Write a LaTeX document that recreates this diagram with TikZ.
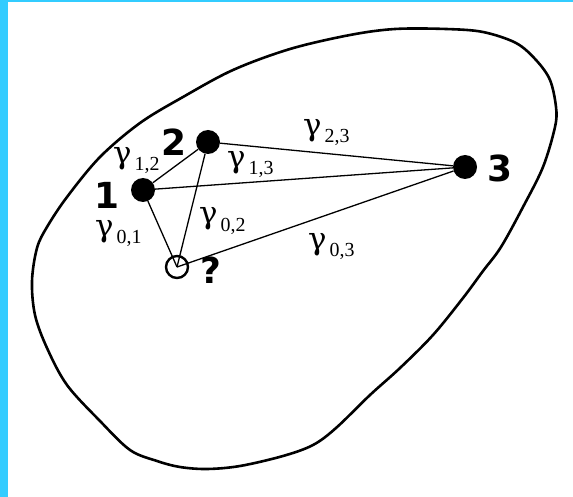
\documentclass[tikz,border=0pt]{standalone}
\usepackage{fontspec}
\setmainfont{Liberation Serif}
\newfontfamily\digfont{DejaVu Sans}
\newfontfamily\grkfont{DejaVu Serif}
\definecolor{barblue}{HTML}{33CCFF}
\newcommand{\gam}[1]{\raisebox{7bp}{\grkfont\fontsize{31}{31}\selectfont γ}\hspace{3bp}{\fontsize{20}{20}\selectfont #1}}
\newcommand{\bignum}[1]{{\digfont\bfseries\fontsize{36}{36}\selectfont #1}}
\begin{document}
\begin{tikzpicture}[x=1bp,y=-1bp,
  dot/.style={circle,fill=black,inner sep=0pt,minimum size=24bp},
  hole/.style={circle,draw=black,line width=2.4bp,inner sep=0pt,minimum size=22bp},
  link/.style={line width=1.3bp},
  glab/.style={inner sep=0pt,anchor=base west},
  numlab/.style={inner sep=0pt}]
\useasboundingbox (0,0) rectangle (573,497);
\fill[white] (0,0) rectangle (573,497);
\fill[barblue] (0,0) rectangle (8,497);
\fill[barblue] (0,0) rectangle (573,2);
% region boundary
\draw[line width=2.6bp] plot[smooth cycle,tension=0.55] coordinates {
 (395,29) (446,29) (483,32) (516,43) (536,60) (550,80) (556,107) (555,127)
 (543,167) (523,207) (501,247) (483,271) (463,298) (433,335) (400,368)
 (370,395) (336,428) (313,445) (283,456) (240,466) (207,469) (180,467)
 (157,461) (130,450) (100,421) (67,385) (47,348) (35,315) (32,281)
 (37,248) (47,227) (67,197) (100,157) (140,123) (183,97) (233,70)
 (290,49) (350,35)};
% points
\node[dot] (p1) at (143,190) {};
\node[dot] (p2) at (208,142) {};
\node[dot] (p3) at (465,167) {};
\node[hole] (p0) at (177,267) {};
\node[numlab] (l1) at (107,195) {\bignum{1}};
\node[numlab] (l2) at (174,142) {\bignum{2}};
\node[numlab] (l3) at (500,168) {\bignum{3}};
\node[numlab] (l0) at (211,270) {\bignum{?}};
% links
\draw[link] (p1) -- (p2);
\draw[link] (p1) -- (p3);
\draw[link] (p2) -- (p3);
\draw[link] (p1) -- (p0.center);
\draw[link] (p2) -- (p0.center);
\draw[link] (p0.center) -- (p3);
\node[glab] (g12) at (113,171) {\gam{1,2}};
\node[glab] (g13) at (227,175) {\gam{1,3}};
\node[glab] (g23) at (303,143) {\gam{2,3}};
\node[glab] (g01) at (95,243) {\gam{0,1}};
\node[glab] (g02) at (199,231) {\gam{0,2}};
\node[glab] (g03) at (308,256) {\gam{0,3}};
\end{tikzpicture}
\end{document}
